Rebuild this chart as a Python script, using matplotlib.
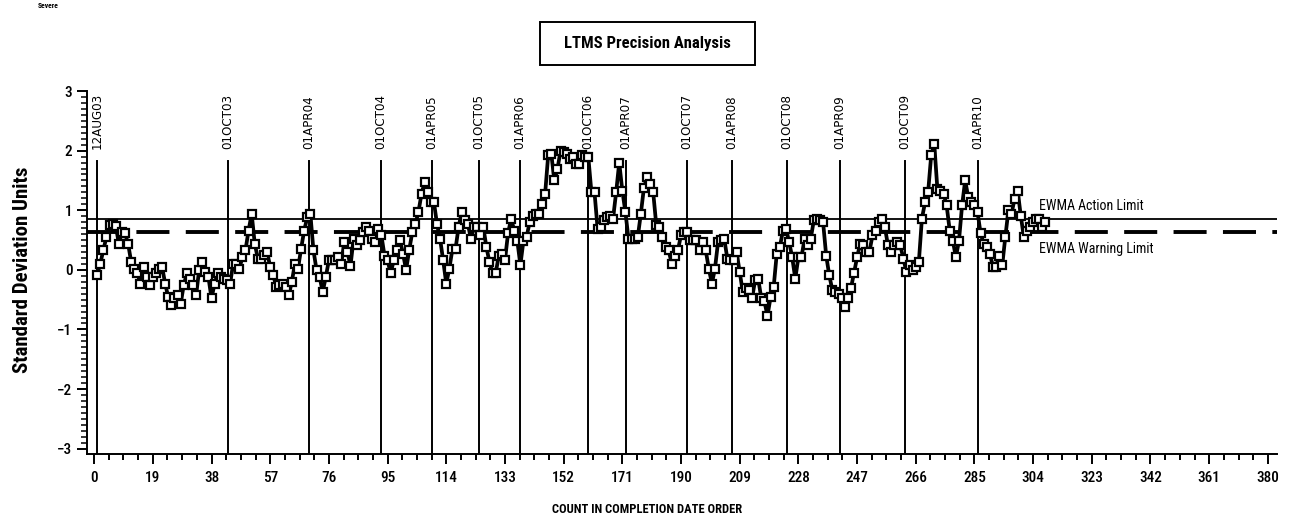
import matplotlib
matplotlib.use("Agg")
import matplotlib.pyplot as plt
from matplotlib.ticker import MultipleLocator
from matplotlib.patches import Rectangle
from matplotlib import font_manager

# EWMA values, one per test in completion order (count 1..308)
ewma = [
    -0.08, 0.10, 0.34, 0.55, 0.76, 0.77, 0.74, 0.44, 0.63, 0.61,
    0.44, 0.13, 0.02, -0.06, -0.23, 0.05, -0.12, -0.26, -0.12, -0.05,
    0.02, 0.05, -0.23, -0.46, -0.59, -0.48, -0.43, -0.57, -0.26, -0.06,
    -0.15, -0.26, -0.43, 0.00, 0.13, -0.04, -0.12, -0.48, -0.23, -0.06,
    -0.12, -0.15, -0.17, -0.24, 0.10, 0.10, 0.02, 0.21, 0.33, 0.66,
    0.94, 0.44, 0.19, 0.19, 0.25, 0.30, 0.05, -0.09, -0.29, -0.26,
    -0.23, -0.29, -0.43, -0.20, 0.10, 0.02, 0.35, 0.66, 0.88, 0.94,
    0.33, 0.00, -0.12, -0.37, -0.12, 0.16, 0.16, 0.16, 0.21, 0.10,
    0.47, 0.30, 0.07, 0.52, 0.41, 0.50, 0.63, 0.72, 0.66, 0.52,
    0.47, 0.69, 0.58, 0.24, 0.16, -0.06, 0.16, 0.33, 0.50, 0.27,
    0.00, 0.33, 0.63, 0.77, 0.97, 1.28, 1.47, 1.30, 1.14, 1.14,
    0.77, 0.52, 0.16, -0.23, 0.02, 0.35, 0.35, 0.72, 0.97, 0.83,
    0.77, 0.52, 0.72, 0.72, 0.58, 0.72, 0.38, 0.13, -0.06, -0.06,
    0.24, 0.27, 0.16, 0.61, 0.86, 0.66, 0.49, 0.08, 0.49, 0.55,
    0.80, 0.91, 0.94, 0.94, 1.11, 1.27, 1.92, 1.95, 1.50, 1.69,
    2.00, 1.97, 1.95, 1.86, 1.89, 1.78, 1.78, 1.92, 1.89, 1.89,
    1.30, 1.30, 0.69, 0.72, 0.83, 0.89, 0.91, 0.86, 1.30, 1.80,
    1.33, 0.97, 0.52, 0.52, 0.52, 0.55, 0.94, 1.38, 1.55, 1.44,
    1.30, 0.75, 0.72, 0.55, 0.38, 0.33, 0.10, 0.24, 0.33, 0.58,
    0.63, 0.63, 0.50, 0.50, 0.50, 0.33, 0.47, 0.33, 0.02, -0.23,
    0.02, 0.47, 0.50, 0.52, 0.19, 0.16, 0.16, 0.30, -0.04, -0.37,
    -0.31, -0.34, -0.48, -0.17, -0.15, -0.48, -0.53, -0.77, -0.46, -0.29,
    0.27, 0.38, 0.66, 0.69, 0.47, 0.21, -0.15, 0.21, 0.21, 0.52,
    0.41, 0.52, 0.83, 0.86, 0.83, 0.80, 0.24, -0.09, -0.34, -0.37,
    -0.40, -0.48, -0.62, -0.48, -0.31, -0.06, 0.21, 0.44, 0.41, 0.30,
    0.30, 0.58, 0.66, 0.80, 0.86, 0.72, 0.41, 0.30, 0.41, 0.47,
    0.41, 0.19, -0.04, 0.08, 0.00, 0.05, 0.13, 0.86, 1.13, 1.30,
    1.92, 2.11, 1.36, 1.33, 1.28, 1.08, 0.66, 0.49, 0.21, 0.49,
    1.08, 1.50, 1.22, 1.13, 1.08, 0.97, 0.61, 0.44, 0.38, 0.27,
    0.05, 0.05, 0.24, 0.08, 0.55, 1.00, 0.94, 1.19, 1.33, 0.91,
    0.55, 0.66, 0.72, 0.80, 0.86, 0.86, 0.72, 0.80,
]
count = list(range(1, len(ewma) + 1))

action_limit = 0.85
warning_limit = 0.64

date_labels = ["12AUG03", "01OCT03", "01APR04", "01OCT04", "01APR05", "01OCT05",
               "01APR06", "01OCT06", "01APR07", "01OCT07", "01APR08", "01OCT08",
               "01APR09", "01OCT09", "01APR10"]
date_pos = [1, 43.4, 69.6, 92.9, 109.4, 124.6, 137.9, 159.9, 172.2, 191.9,
            206.5, 224.3, 241.4, 262.5, 286.0]

# narrow font if one is around, otherwise DejaVu
names = {f.name for f in font_manager.fontManager.ttflist}
narrow = "DejaVu Sans"
for cand in ["Liberation Sans Narrow", "DejaVu Sans Condensed", "Roboto Condensed",
             "Open Sans Condensed", "Liberation Sans"]:
    if cand in names:
        narrow = cand
        break

fig = plt.figure(figsize=(12.95, 5.19), dpi=100)
ax = fig.add_axes([0.0672, 0.1252, 0.919, 0.6994])

ymin, ymax = -3.09, 3.0
ax.set_xlim(-2.3, 383)
ax.set_ylim(ymin, ymax)

# date reference lines
for d, lab in zip(date_pos, date_labels):
    ax.plot([d, d], [ymin, 1.83], color="black", lw=1.4, zorder=1)
    ax.text(d, 2.03, lab, rotation=90, ha="center", va="bottom",
            fontsize=8.6, family="DejaVu Sans")

# limits
ax.axhline(action_limit, color="black", lw=1.3, zorder=1)
ax.axhline(warning_limit, color="black", lw=2.8, dashes=(8.5, 4.2), zorder=1)
ax.text(306, action_limit + 0.1, "EWMA Action Limit", fontsize=10,
        family=narrow, ha="left", va="bottom", stretch="condensed")
ax.text(306, warning_limit - 0.17, "EWMA Warning Limit", fontsize=10,
        family=narrow, ha="left", va="top", stretch="condensed")

ax.plot(count, ewma, color="black", lw=2.7, marker="s", ms=5.8,
        mfc="white", mec="black", mew=1.6, zorder=3)

# axes styling
for s in ["top", "right"]:
    ax.spines[s].set_visible(False)
ax.spines["left"].set_linewidth(1.4)
ax.spines["bottom"].set_linewidth(1.4)
ax.set_xticks(range(0, 381, 19))
ax.xaxis.set_minor_locator(MultipleLocator(4.75))
ax.yaxis.set_major_locator(MultipleLocator(1))
ax.yaxis.set_minor_locator(MultipleLocator(0.1))
ax.tick_params(axis="x", which="major", length=7, width=1.4, direction="out", pad=5)
ax.tick_params(axis="x", which="minor", length=4, width=1.4, direction="out")
ax.tick_params(axis="y", which="major", length=7, width=1.4, direction="out")
ax.tick_params(axis="y", which="minor", length=4, width=1.1, direction="out")
for lab in ax.get_xticklabels() + ax.get_yticklabels():
    lab.set_family(narrow)
    lab.set_stretch("condensed")
    lab.set_fontsize(11)
    lab.set_fontweight("medium")

fig.text(0.017, 0.48, "Standard Deviation Units", rotation=90, ha="center",
         va="center", fontsize=15, fontweight="bold", family=narrow,
         stretch="condensed")
fig.text(0.5, 0.019, "COUNT IN COMPLETION DATE ORDER", ha="center",
         va="center", fontsize=9, fontweight="bold", family=narrow,
         stretch="condensed")

# title box
fig.patches.append(Rectangle((540 / 1295, 1 - 65 / 519), 215 / 1295, 43 / 519,
                             transform=fig.transFigure, fill=False,
                             edgecolor="black", lw=1.4))
fig.text(647 / 1295, 1 - 43.5 / 519, "LTMS Precision Analysis", ha="center",
         va="center", fontsize=12, fontweight="bold", family=narrow,
         stretch="condensed")
fig.text(38 / 1295, 1 - 6 / 519, "Severe", ha="left", va="center",
         fontsize=5.5, fontweight="bold", family=narrow)

fig.savefig("out.png", dpi=100)
